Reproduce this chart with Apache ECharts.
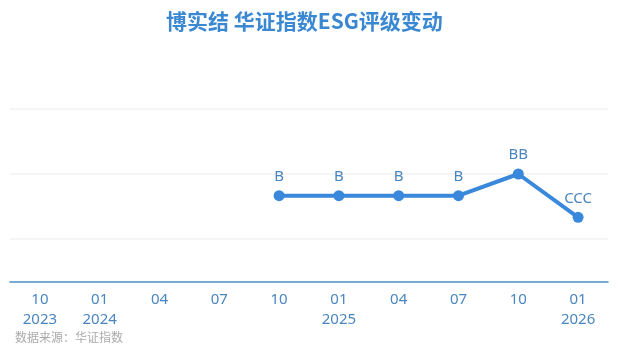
<!DOCTYPE html>
<html><head><meta charset="utf-8">
<script src="https://cdn.jsdelivr.net/npm/echarts@6/dist/echarts.min.js"></script>
<style>html,body{margin:0;padding:0;background:#fff}#c{width:618px;height:355px}</style>
</head><body><div id="c"></div>
<script>
const titleText = '博实结 华证指数ESG评级变动';
const sourceText = '数据来源：华证指数';
const categories = ['10\n2023','01\n2024','04','07','10','01\n2025','04','07','10','01\n2026'];
const ratingNames = ['C','CC','CCC','B','BB','BBB','A','AA','AAA'];
const ratingValues = [2,3,4,5,6,7,8,9,10]; // numeric level per rating name (CCC=4, B=5, BB=6)
const seriesRatings = [null,null,null,null,'B','B','B','B','BB','CCC'];
const levelOf = r => r == null ? null : ratingValues[ratingNames.indexOf(r)];
const seriesValues = seriesRatings.map(levelOf);

const chart = echarts.init(document.getElementById('c'));
chart.setOption({
  animation: false,
  title: {
    text: titleText, left: 161, top: 6,
    textStyle: { fontFamily: 'Noto Sans CJK SC', fontWeight: 'bold', fontSize: 21, color: '#3a87d2' }
  },
  graphic: [{
    type: 'text', left: 15, top: 331,
    style: { text: sourceText, fill: '#aaaaaa', font: '12px "Noto Sans CJK SC"' }
  }],
  grid: { left: 10, right: 10, top: 109, bottom: 51, containLabel: false },
  xAxis: {
    type: 'category', data: categories, boundaryGap: true, offset: -22,
    axisLine: { lineStyle: { color: '#4a90c8', width: 1.5 } },
    axisTick: { alignWithLabel: true, length: 5, lineStyle: { color: '#4a90c8' } },
    axisLabel: { color: '#4a86c0', fontSize: 15, lineHeight: 20, margin: 8, fontFamily: 'Noto Sans', interval: 0 }
  },
  yAxis: {
    type: 'value', min: 0, max: 9, interval: 3,
    axisLine: { show: false }, axisTick: { show: false }, axisLabel: { show: false },
    splitLine: { showMinLine: false, lineStyle: { color: '#f2f2f2', width: 1.5 } }
  },
  series: [{
    type: 'line', data: seriesValues, connectNulls: false,
    symbol: 'circle', symbolSize: 11,
    lineStyle: { color: '#3a88dc', width: 4 },
    itemStyle: { color: '#3a88dc' },
    label: {
      show: true, position: 'top', distance: 6,
      color: '#4a86c0', fontSize: 15, fontFamily: 'Noto Sans',
      formatter: p => seriesRatings[p.dataIndex]
    }
  }]
});
</script></body></html>
